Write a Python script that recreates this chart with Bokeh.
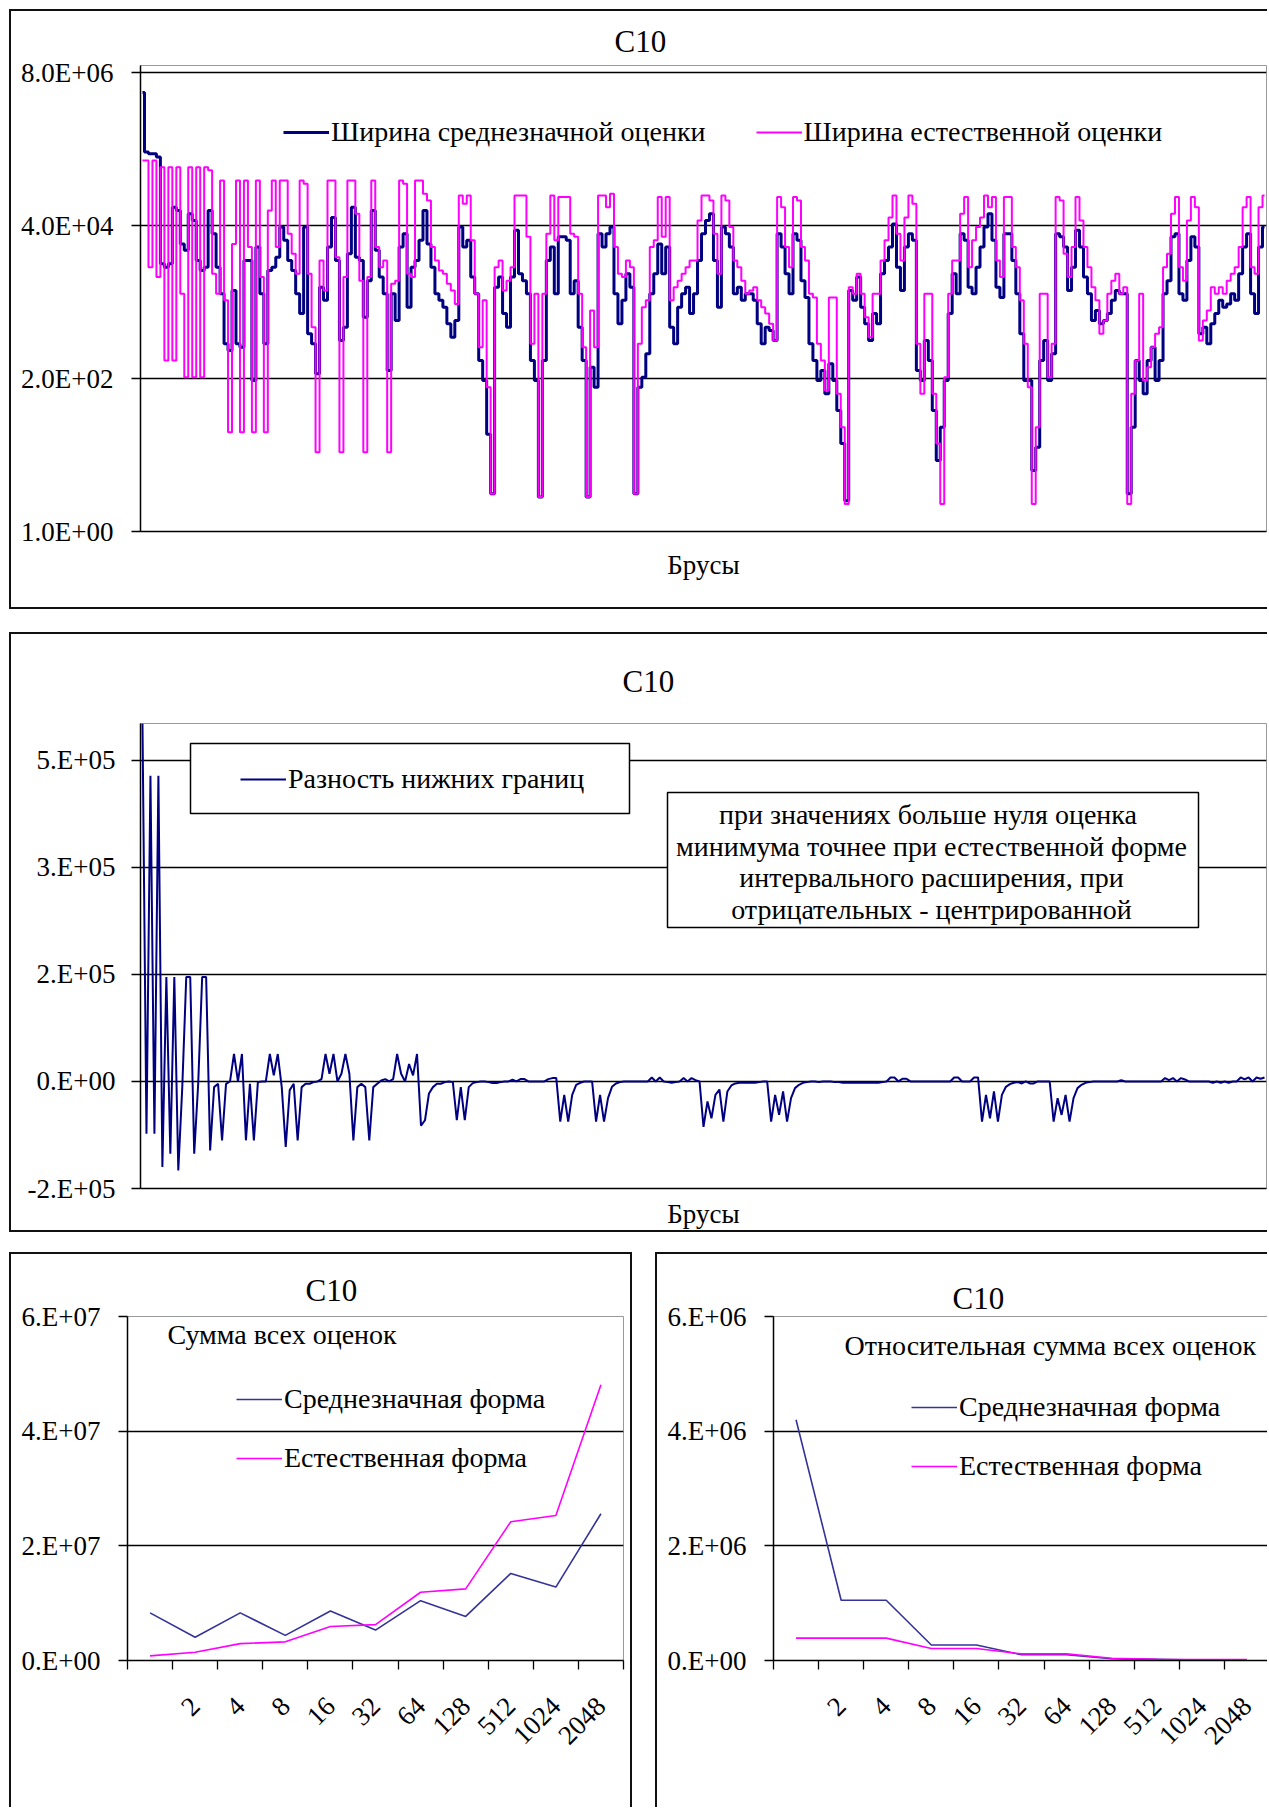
import math
from bokeh.plotting import figure
from bokeh.models import (Range1d, FixedTicker, Label, Legend, LegendItem,
                          BoxAnnotation)
from bokeh.layouts import column, row
from bokeh.embed import file_html
from bokeh.resources import INLINE

FONT = "Liberation Serif"
NAVY = "#000080"
NAVY2 = "#333399"
MAG = "#FF00FF"

# ---------------- data: panel 1 (widths, log scale) ----------------
w_mean = [
    4.0e6, 5.1e5, 4.8e5, 4.8e5, 4.3e5, 1.06e4, 9.4e3, 1.06e4, 7.5e4, 6.7e4,
    2.1e4, 1.7e4, 6.0e4, 4.75e4, 1.19e4, 8.4e3, 9.4e3, 6.7e4, 3.0e4, 9.4e3,
    3.75e3, 664, 527, 4.2e3, 664, 591, 1.19e4, 1.19e4, 187, 1.9e4,
    3.75e3, 664, 8.4e3, 9.4e3, 1.33e4, 3.8e4, 2.4e4, 1.19e4, 8.4e3, 3.75e3,
    1.9e3, 3.8e4, 940, 664, 235, 4.7e3, 3.0e3, 1.9e4, 5.3e4, 1.19e4,
    745, 1.18e3, 1.5e4, 7.5e4, 1.33e4, 1.19e4, 1.67e3, 5.9e3, 6.7e4, 1.7e4,
    6.7e3, 3.75e3, 264, 3.75e3, 1.49e3, 1.9e4, 3.0e4, 2.36e3, 9.4e3, 1.19e4,
    2.4e4, 6.7e4, 2.1e4, 9.4e3, 3.75e3, 3.0e3, 2.36e3, 1.33e3, 836, 1.49e3,
    3.8e4, 1.9e4, 2.4e4, 6.7e3, 3.75e3, 373, 187, 29, 3.7, 4.7e3,
    6.7e3, 1.9e3, 1.18e3, 6.7e3, 3.4e4, 7.5e3, 5.9e3, 3.75e3, 373, 187,
    3.3, 373, 1.19e4, 1.9e4, 3.75e3, 2.7e4, 2.7e4, 2.4e4, 3.75e3, 5.9e3,
    1.18e3, 373, 3.3, 296, 148, 3.0e4, 1.9e4, 3.0e4, 3.8e4, 3.75e3,
    1.33e3, 3.0e3, 7.5e3, 4.7e3, 3.7, 148, 209, 470, 3.75e3, 7.5e3,
    2.1e4, 7.5e3, 1.9e4, 1.18e3, 664, 2.36e3, 3.75e3, 4.7e3, 1.9e3, 3.75e3,
    1.19e4, 3.0e4, 4.75e4, 6.0e4, 1.19e4, 2.36e3, 3.8e4, 3.0e4, 1.9e4, 3.75e3,
    4.7e3, 3.0e3, 3.75e3, 3.75e3, 3.0e3, 1.33e3, 664, 1.18e3, 1.05e3, 745,
    3.0e4, 1.9e4, 7.5e3, 3.75e3, 3.0e4, 2.4e4, 5.9e3, 3.3e3, 664, 373,
    187, 264, 118, 332, 187, 66, 21, 2.9, 4.2e3, 3.0e3,
    6.7e3, 2.36e3, 1.33e3, 745, 1.9e3, 1.33e3, 7.5e3, 1.19e4, 1.9e4, 4.2e4,
    9.4e3, 4.2e3, 1.9e4, 3.0e4, 2.4e4, 264, 187, 745, 373, 66,
    11.7, 37, 187, 1.9e3, 7.5e3, 3.75e3, 3.0e4, 2.4e4, 4.7e3, 3.75e3,
    9.4e3, 1.9e4, 3.8e4, 6.0e4, 2.4e4, 4.7e3, 3.3e3, 3.0e4, 3.0e4, 1.19e4,
    3.75e3, 940, 187, 187, 8.3, 18.5, 373, 745, 187, 470,
    3.0e4, 2.7e4, 1.9e4, 4.2e3, 9.4e3, 3.4e4, 1.9e4, 6.7e3, 3.75e3, 1.49e3,
    2.1e3, 1.33e3, 1.49e3, 1.9e3, 3.0e3, 4.2e3, 3.75e3, 3.75e3, 3.7, 37,
    373, 187, 118, 373, 591, 187, 373, 3.75e3, 5.9e3, 2.7e4,
    3.0e4, 3.75e3, 3.0e3, 1.19e4, 2.7e4, 1.9e4, 940, 1.18e3, 664, 1.33e3,
    1.9e3, 3.0e3, 2.36e3, 2.65e3, 3.75e3, 3.0e3, 7.5e3, 1.9e4, 3.0e4, 3.75e3,
    1.9e3, 1.9e4, 3.8e4,
]
w_nat = [
    3.8e5, 3.8e5, 9.4e3, 3.8e5, 6.7e3, 3.0e5, 373, 3.0e5, 373, 3.0e5,
    3.75e3, 209, 3.0e5, 209, 3.0e5, 209, 3.0e5, 2.7e5, 7.5e3, 3.75e3,
    1.9e5, 3.0e3, 31, 2.1e4, 1.9e5, 31, 1.9e5, 1.9e4, 31, 1.9e5,
    6.7e3, 31, 6.7e4, 1.9e5, 1.9e4, 1.9e5, 1.9e5, 3.0e4, 1.5e4, 7.5e3,
    1.9e5, 1.7e5, 7.5e3, 1.18e3, 15.6, 1.19e4, 4.2e3, 1.9e5, 1.9e5, 1.33e4,
    15.6, 6.7e3, 1.9e5, 1.9e5, 6.0e4, 5.9e3, 15.6, 6.7e3, 1.9e5, 1.9e4,
    9.4e3, 1.19e4, 15.6, 5.3e3, 5.9e3, 1.9e5, 1.7e5, 7.5e3, 6.7e3, 1.9e5,
    1.9e5, 1.2e5, 9.5e4, 1.9e4, 1.19e4, 8.4e3, 7.5e3, 5.3e3, 4.2e3, 2.65e3,
    1.13e5, 8.5e4, 1.13e5, 2.4e4, 3.75e3, 591, 3.0e3, 148, 3.7, 9.4e3,
    1.19e4, 4.2e3, 5.9e3, 9.4e3, 1.13e5, 1.13e5, 1.13e5, 2.7e4, 664, 3.75e3,
    3.3, 3.75e3, 3.0e4, 1.13e5, 2.4e4, 1.07e5, 1.07e5, 1.07e5, 3.0e4, 2.7e4,
    3.75e3, 591, 3.3, 2.1e3, 591, 1.13e5, 1.13e5, 7.5e4, 1.2e5, 1.9e4,
    7.5e3, 6.7e3, 1.19e4, 9.4e3, 3.7, 664, 2.36e3, 3.0e3, 1.9e4, 2.4e4,
    1.07e5, 2.7e4, 1.07e5, 3.0e3, 4.7e3, 5.9e3, 7.5e3, 9.4e3, 1.19e4, 1.19e4,
    4.75e4, 1.13e5, 1.13e5, 9.5e4, 3.0e4, 7.5e3, 1.13e5, 9.5e4, 3.8e4, 1.19e4,
    9.4e3, 5.9e3, 3.75e3, 4.2e3, 4.7e3, 3.0e3, 2.36e3, 1.9e3, 1.33e3, 745,
    1.07e5, 7.5e4, 1.9e4, 9.4e3, 1.07e5, 9.5e4, 1.9e4, 1.19e4, 3.75e3, 3.3e3,
    664, 373, 132, 3.3e3, 3.3e3, 118, 37, 2.6, 4.7e3, 3.75e3,
    7.5e3, 3.75e3, 1.67e3, 836, 3.75e3, 3.75e3, 1.19e4, 2.4e4, 5.3e4, 1.13e5,
    3.0e4, 1.19e4, 5.3e4, 1.13e5, 8.5e4, 664, 118, 3.75e3, 3.75e3, 118,
    21, 2.6, 209, 3.75e3, 1.19e4, 1.19e4, 6.0e4, 1.07e5, 9.4e3, 2.4e4,
    3.8e4, 5.3e4, 1.13e5, 7.5e4, 1.07e5, 1.19e4, 6.7e3, 1.07e5, 1.07e5, 1.9e4,
    9.4e3, 3.0e3, 664, 148, 2.6, 37, 3.75e3, 3.75e3, 209, 664,
    1.07e5, 9.5e4, 1.5e4, 6.7e3, 1.9e4, 1.07e5, 4.75e4, 1.9e4, 9.4e3, 4.7e3,
    3.0e3, 940, 1.49e3, 3.75e3, 5.9e3, 7.5e3, 3.75e3, 4.7e3, 2.6, 118,
    373, 3.75e3, 187, 296, 591, 940, 1.18e3, 9.4e3, 1.5e4, 6.0e4,
    1.07e5, 9.4e3, 5.9e3, 4.75e4, 1.07e5, 7.5e4, 745, 1.49e3, 2.1e3, 4.7e3,
    3.75e3, 4.7e3, 3.75e3, 5.9e3, 7.5e3, 9.4e3, 1.9e4, 7.5e4, 1.07e5, 9.4e3,
    7.5e3, 7.5e4, 1.13e5,
]

# ---------------- data: panel 2 (difference of lower bounds) ----------------
low_diff = [
    5.35e5, -7.8e4, 4.57e5, -7.8e4, 4.57e5, -1.28e5, 1.56e5, -1.08e5, 1.56e5, -1.33e5,
    -8.5e3, 1.56e5, 1.56e5, -1.08e5, -3.5e3, 1.56e5, 1.56e5, -1.03e5, -8.5e3, -3.5e3,
    -8.8e4, -3.5e3, 0, 4.1e4, 0, 4.1e4, -8.8e4, -3.5e3, -8.8e4, -1e3,
    0, 0, 4.1e4, 9e3, 4.1e4, -8.5e3, -9.8e4, -1.3e4, -3.5e3, -8.8e4,
    -8.5e3, -3.5e3, -3.5e3, -1e3, 0, 3.5e3, 4.1e4, 1.15e4, 4.1e4, 0,
    1.15e4, 4.1e4, 1.15e4, -8.8e4, -8.5e3, -3.5e3, -8.5e3, -8.8e4, -8.5e3, -3.5e3,
    1.5e3, 3.5e3, 0, 3.5e3, 4.1e4, 1.15e4, 0, 2.6e4, 9e3, 4.1e4,
    -6.6e4, -5.8e4, -1.8e4, -8.5e3, -3.5e3, -3.5e3, -1e3, 0, -1e3, -5.8e4,
    -8.5e3, -5.8e4, -8.5e3, -2.5e3, -1e3, 0, 0, -1e3, -2.5e3, -2.5e3,
    -1e3, 0, 0, 2.5e3, 0, 3.5e3, 3.5e3, 0, 0, 0,
    0, 0, 3.5e3, 5e3, 5e3, -6e4, -2e4, -6e4, -2e4, -5e3,
    -2e3, 0, 0, 0, -6e4, -2e4, -6e4, -2.5e4, -8e3, -3e3,
    -1e3, 0, 0, 0, 0, 0, 0, 0, 6e3, 0,
    6e3, 0, -1e3, -2e3, -1e3, 0, 5e3, 0, 5e3, 2e3,
    0, -6.8e4, -3e4, -5.5e4, -2e4, -1.2e4, -6e4, -1.5e4, -6e3, -3e3,
    -2e3, -2e3, -2e3, -2e3, -2e3, -1e3, 0, 0, -6e4, -2e4,
    -5e4, -1.5e4, -6e4, -2.5e4, -1e4, -5e3, -2e3, -1e3, 0, 0,
    -1e3, 0, 0, 0, -1e3, -1e3, -2e3, -2e3, -2e3, -2e3,
    -2e3, -2e3, -2e3, -2e3, -2e3, -2e3, -1e3, 0, 6e3, 6e3,
    0, 4e3, 4e3, 0, 0, 0, 0, 0, 0, 0,
    0, 0, 0, 0, 6e3, 6e3, 0, 0, 0, 6e3,
    6e3, -6e4, -2e4, -5.5e4, -1.5e4, -6e4, -2e4, -8e3, -4e3, -2e3,
    -1e3, -3e3, 0, -3e3, -3e3, 0, 0, 0, 0, -6e4,
    -2.5e4, -5e4, -2e4, -6e4, -2.5e4, -1e4, -5e3, -2e3, -1e3, 0,
    0, 0, 0, 0, 0, 0, 2e3, 0, 0, 0,
    0, 0, 0, 0, 0, 0, 0, 5e3, 2e3, 5e3,
    0, 5e3, 3e3, 0, 0, 0, 0, 0, 0, -2e3,
    0, -2e3, 0, -2e3, 0, 0, 6e3, 3e3, 6e3, 0,
    6e3, 4e3, 6e3,
]
bars = list(range(len(w_mean)))

# ---------------- data: panels 3 and 4 ----------------
cats = [" ", "2", "4", "8", "16", "32", "64", "128", "512", "1024", "2048"]
sum_mean = [8.31e6, 4.06e6, 8.31e6, 4.38e6, 8.63e6, 5.31e6, 1.044e7, 7.69e6, 1.519e7, 1.281e7, 2.56e7]
sum_nat = [0.81e6, 1.44e6, 2.94e6, 3.25e6, 5.94e6, 6.25e6, 1.19e7, 1.25e7, 2.42e7, 2.53e7, 4.81e7]
rel_mean = [4.2e6, 1.05e6, 1.05e6, 2.7e5, 2.7e5, 1.0e5, 1.0e5, 3e4, 2e4, 1e4, 1e4]
rel_nat = [3.9e5, 3.9e5, 3.9e5, 2.1e5, 2.1e5, 1.15e5, 1.15e5, 4e4, 2e4, 1.5e4, 1.5e4]

p1_ticks = [1, 200, 40000, 8000000]
p1_labels = ["1.0E+00", "2.0E+02", "4.0E+04", "8.0E+06"]
p2_ticks = [-160000, 0, 160000, 320000, 480000]
p2_labels = ["-2.E+05", "0.E+00", "2.E+05", "3.E+05", "5.E+05"]
p3_ticks = [0, 20000000, 40000000, 60000000]
p3_labels = ["0.E+00", "2.E+07", "4.E+07", "6.E+07"]
p4_ticks = [0, 2000000, 4000000, 6000000]
p4_labels = ["0.E+00", "2.E+06", "4.E+06", "6.E+06"]

BLK = "2px solid #111"


def base_fig(w, h, mbl, mbr, mbt, mbb, **kw):
    p = figure(width=w, height=h, output_backend="svg", toolbar_location=None,
               tools="", min_border_left=mbl, min_border_right=mbr,
               min_border_top=mbt, min_border_bottom=mbb, **kw)
    p.background_fill_color = "white"
    p.border_fill_color = "white"
    p.outline_line_color = "#9a9a9a"
    p.outline_line_width = 1
    p.xgrid.visible = False
    return p


def set_title(p, offset, standoff):
    p.title.text = "C10"
    p.title.align = "left"
    p.title.offset = offset
    p.title.standoff = standoff
    p.title.text_font = FONT
    p.title.text_font_size = "31px"
    p.title.text_font_style = "normal"
    p.title.text_color = "black"


def style_y(p, ticks, labels, standoff):
    t = FixedTicker(ticks=ticks)
    ax = p.left[0]
    ax.ticker = t
    ax.major_label_overrides = dict(zip(ticks, labels))
    ax.major_label_text_font = FONT
    ax.major_label_text_font_size = "27px"
    ax.major_label_text_color = "black"
    ax.major_label_standoff = standoff
    ax.major_tick_out = 9
    ax.major_tick_in = 0
    ax.major_tick_line_color = "black"
    ax.major_tick_line_width = 1.3
    ax.minor_tick_line_color = None
    ax.axis_line_color = "black"
    ax.axis_line_width = 1.5
    g = p.ygrid[0]
    g.ticker = t
    g.grid_line_color = "black"
    g.grid_line_width = 1.3


def plain_x(p, standoff):
    ax = p.below[0]
    ax.ticker = FixedTicker(ticks=[])
    ax.major_tick_line_color = None
    ax.minor_tick_line_color = None
    ax.major_label_standoff = 0
    ax.axis_line_color = "black"
    ax.axis_line_width = 1.5
    ax.axis_label = "Брусы"
    ax.axis_label_text_font = FONT
    ax.axis_label_text_font_size = "27px"
    ax.axis_label_text_font_style = "normal"
    ax.axis_label_text_color = "black"
    ax.axis_label_standoff = standoff


def cat_x(p, n):
    xs = list(range(1, n + 1))
    ax = p.below[0]
    ax.ticker = FixedTicker(ticks=xs, minor_ticks=[k + 0.5 for k in range(n + 1)])
    ax.major_label_overrides = dict(zip(xs, cats))
    ax.major_tick_line_color = None
    ax.major_tick_out = 0
    ax.major_tick_in = 0
    ax.minor_tick_line_color = "black"
    ax.minor_tick_line_width = 1.3
    ax.minor_tick_out = 9
    ax.minor_tick_in = 0
    ax.axis_line_color = "black"
    ax.axis_line_width = 1.5
    ax.major_label_orientation = math.pi / 4
    ax.major_label_text_font = FONT
    ax.major_label_text_font_size = "27px"
    ax.major_label_text_color = "black"
    ax.major_label_standoff = 32


def text(p, x, y, s, size="28px", align="left"):
    p.add_layout(Label(x=x, y=y, x_units="screen", y_units="screen", text=s,
                       text_font=FONT, text_font_size=size, text_align=align,
                       text_baseline="middle", text_color="black"))


def box(p, l, r, b, t):
    p.add_layout(BoxAnnotation(left=l, right=r, bottom=b, top=t,
                               left_units="screen", right_units="screen",
                               top_units="screen", bottom_units="screen",
                               fill_color="white", fill_alpha=1,
                               line_color="black", line_alpha=1,
                               line_width=1.5))


def legend(p, items, loc, orientation="vertical", spacing=27):
    lg = Legend(items=[LegendItem(label=l, renderers=[r]) for l, r in items],
                location=loc, orientation=orientation, glyph_width=46,
                glyph_height=20, label_standoff=2, spacing=spacing, padding=0,
                margin=0, border_line_color=None, background_fill_alpha=0,
                label_text_font=FONT, label_text_font_size="28px",
                label_text_color="black")
    p.add_layout(lg)


# ---------------- panel 1 ----------------
p1 = base_fig(1258, 600, 129, 0, 54, 80, y_axis_type="log",
              x_range=Range1d(-0.5, len(bars) - 0.5), y_range=Range1d(1, 1.02e7))
set_title(p1, 474, 14)
style_y(p1, p1_ticks, p1_labels, 18)
plain_x(p1, 18)
r1a = p1.step(bars, w_mean, mode="center", line_color=NAVY, line_width=3)
r1b = p1.step(bars, w_nat, mode="center", line_color=MAG, line_width=2)
legend(p1, [("Ширина среднезначной оценки", r1a), ("Ширина естественной оценки", r1b)],
       (143, 383), orientation="horizontal", spacing=50)
p1.margin = (9, 0, 0, 9)
p1.styles = {"border-left": BLK, "border-top": BLK, "border-bottom": BLK}

# ---------------- panel 2 ----------------
p2 = base_fig(1258, 600, 125, 3, 89, 46,
              x_range=Range1d(-0.5, len(bars) - 0.5), y_range=Range1d(-160000, 535000))
set_title(p2, 482, 50)
style_y(p2, p2_ticks, p2_labels, 16)
plain_x(p2, 10)
r2 = p2.line(bars, low_diff, line_color=NAVY, line_width=2)
box(p2, 50, 489, 375, 445)
legend(p2, [("Разность нижних границ", r2)], (100, 393))
box(p2, 527, 1058, 261, 396)
note = ["при значениях больше  нуля оценка",
        "минимума точнее при естественной форме",
        "интервального расширения, при",
        "отрицательных - центрированной"]
for k, s in enumerate(note):
    text(p2, 791, 374 - 31.7 * k, s, align="center")
p2.margin = (23, 0, 0, 9)
p2.styles = {"border-left": BLK, "border-top": BLK, "border-bottom": BLK}

# ---------------- panel 3 ----------------
xs = list(range(1, len(cats) + 1))
p3 = base_fig(623, 555, 116, 11, 62, 135,
              x_range=Range1d(0.5, len(cats) + 0.5), y_range=Range1d(0, 6e7))
set_title(p3, 178, 18)
style_y(p3, p3_ticks, p3_labels, 18)
cat_x(p3, len(cats))
r3a = p3.line(xs, sum_mean, line_color=NAVY2, line_width=1.6)
r3b = p3.line(xs, sum_nat, line_color=MAG, line_width=1.6)
legend(p3, [("Среднезначная форма", r3a), ("Естественная форма", r3b)], (109, 186))
text(p3, 40, 326, "Сумма всех оценок")
p3.margin = (20, 0, 0, 9)
p3.styles = {"border-left": BLK, "border-top": BLK, "border-right": BLK}

# ---------------- panel 4 ----------------
p4 = base_fig(612, 555, 116, 0, 62, 149,
              x_range=Range1d(0.5, len(cats) + 0.5), y_range=Range1d(0, 6e6))
set_title(p4, 179, 2)
style_y(p4, p4_ticks, p4_labels, 18)
cat_x(p4, len(cats))
r4a = p4.line(xs, rel_mean, line_color=NAVY2, line_width=1.6)
r4b = p4.line(xs, rel_nat, line_color=MAG, line_width=1.6)
legend(p4, [("Среднезначная форма", r4a), ("Естественная форма", r4b)], (138, 178))
text(p4, 71, 315, "Относительная сумма всех оценок")
p4.margin = (20, 0, 0, 23)
p4.styles = {"border-left": BLK, "border-top": BLK}

layout = column(p1, p2, row(p3, p4))
open("out.html", "w").write(file_html(layout, INLINE))
